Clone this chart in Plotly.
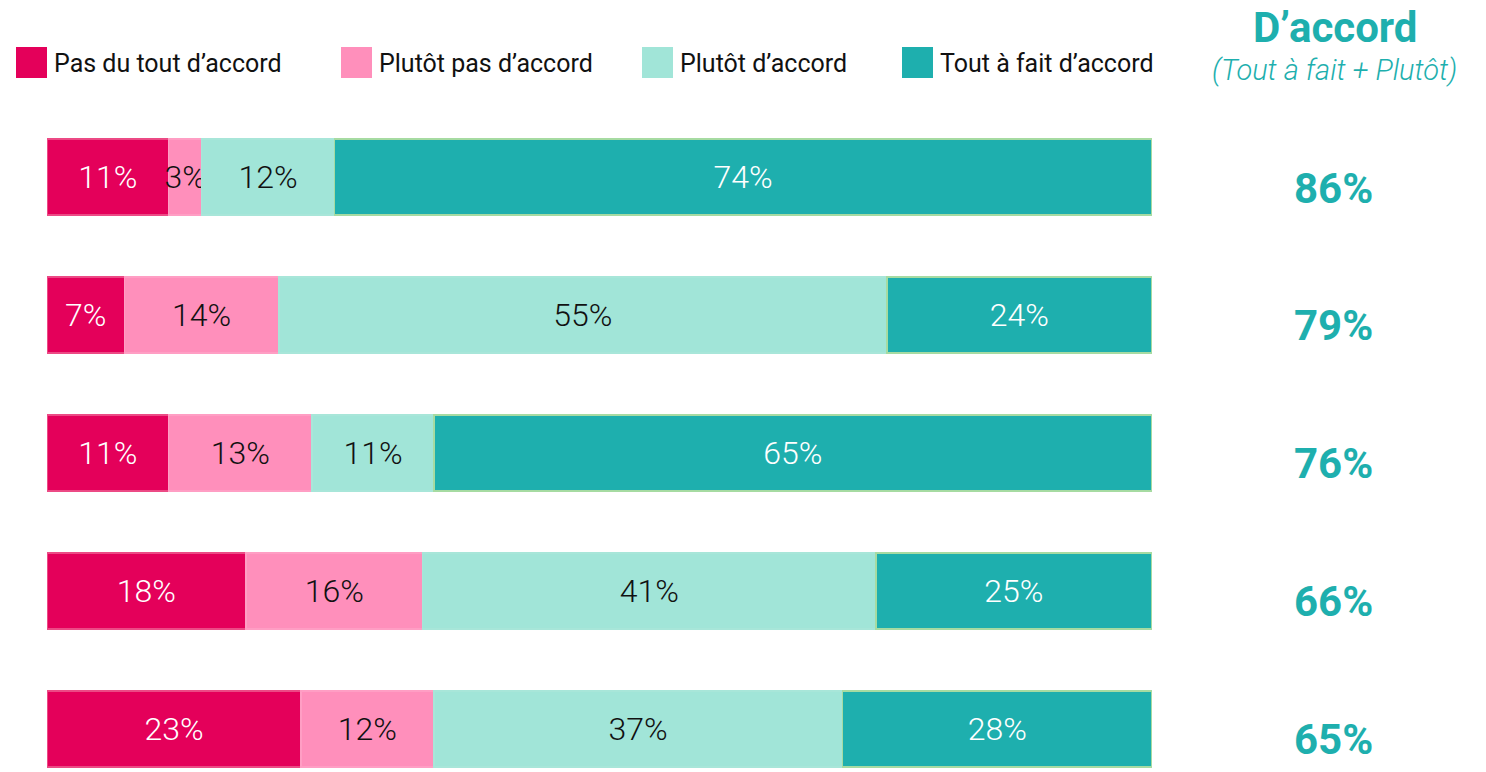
import plotly.graph_objects as go

rows = [0, 1, 2, 3, 4]
pas_du_tout = [11, 7, 11, 18, 23]
plutot_pas = [3, 14, 13, 16, 12]
plutot = [12, 55, 11, 41, 37]
tout_a_fait = [74, 24, 65, 25, 28]
totals = [86, 79, 76, 66, 65]
series_names = ["Pas du tout d’accord", "Plutôt pas d’accord", "Plutôt d’accord", "Tout à fait d’accord"]

W, H = 1486, 772
OFF = 0  # body margin removed via post_script
L, T = 47 - OFF, 100 - OFF
PW = 1105
R = W - L - PW
PH = 672
B = H - T - PH

def px(x):
    return (x - OFF - L) / PW

def py(y):
    return (T + PH - (y - OFF)) / PH

fills = ["#E4005A", "#FF8FBB", "#A1E5D8", "#1EAFAE"]
lines = ["#EC4A85", "#FF9EC4", "#A8E6D9", "#A6DBA2"]
txtcol = ["white", "#111111", "#111111", "white"]
data = [pas_du_tout, plutot_pas, plutot, tout_a_fait]

fig = go.Figure()
for name, vals, fc, lc, tc in zip(series_names, data, fills, lines, txtcol):
    fig.add_trace(go.Bar(
        y=rows, x=vals, orientation="h", name=name, width=0.55,
        marker=dict(color=fc, line=dict(color=lc, width=1.5)),
        text=[f"{v}%" for v in vals], textposition="inside",
        insidetextanchor="middle", textangle=0,
        textfont=dict(family="Roboto", size=32, color=tc, weight=300),
        hoverinfo="skip", showlegend=False,
    ))

shapes = []
annotations = []
leg_x = [16, 341, 642, 902]
for name, x0, fc in zip(series_names, leg_x, fills):
    shapes.append(dict(type="rect", xref="paper", yref="paper",
                       x0=px(x0), x1=px(x0 + 31), y0=py(78), y1=py(47),
                       fillcolor=fc, line=dict(width=0)))
    annotations.append(dict(xref="paper", yref="paper", x=px(x0 + 36), y=py(63),
                            xanchor="left", yanchor="middle", showarrow=False,
                            text=name, font=dict(family="Roboto", size=25, color="#111111")))

annotations.append(dict(xref="paper", yref="paper", x=px(1335), y=py(27),
                        xanchor="center", yanchor="middle", showarrow=False, borderpad=0,
                        text="<b>D’accord</b>", font=dict(family="Roboto", size=42, color="#1EAFAE")))
annotations.append(dict(xref="paper", yref="paper", x=px(1334), y=py(70),
                        xanchor="center", yanchor="middle", showarrow=False,
                        text="<i>(Tout à fait + Plutôt)</i>",
                        font=dict(family="Roboto", size=29, color="#1EAFAE", weight=300)))
for r, t in zip(rows, totals):
    annotations.append(dict(xref="paper", yref="y", x=px(1333), y=r, yshift=-11,
                            xanchor="center", yanchor="middle", showarrow=False,
                            text=f"<b>{t}%</b>", font=dict(family="Roboto", size=42, color="#1EAFAE")))

fig.update_layout(
    width=W, height=H, barmode="stack",
    margin=dict(l=L, r=R, t=T, b=B),
    plot_bgcolor="white", paper_bgcolor="white",
    xaxis=dict(range=[0, 100], visible=False, fixedrange=True),
    yaxis=dict(range=[4.312, -0.558], visible=False, fixedrange=True),
    uniformtext=dict(minsize=32, mode="show"),
    shapes=shapes, annotations=annotations,
    showlegend=False,
)
fig.write_html("out.html", config={"displayModeBar": False, "staticPlot": True},
               post_script="document.body.style.margin='0';document.body.style.overflow='hidden';")
